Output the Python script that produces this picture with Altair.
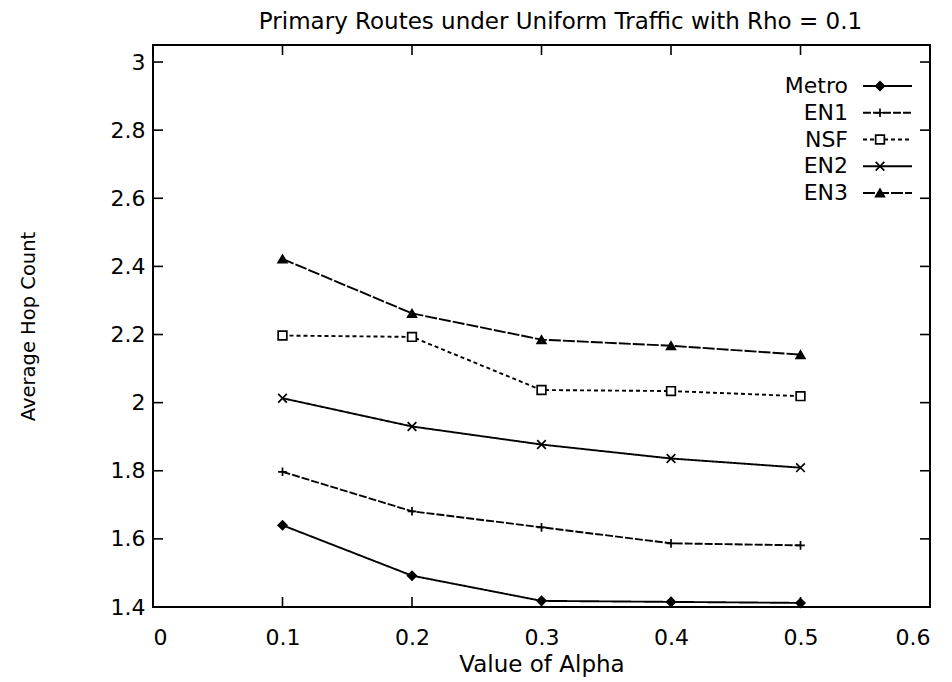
import altair as alt
import pandas as pd

# ---- data ----
alpha = [0.1, 0.2, 0.3, 0.4, 0.5]
series = ["Metro", "EN1", "NSF", "EN2", "EN3"]
metro = [1.640, 1.492, 1.418, 1.415, 1.412]
en1 = [1.797, 1.681, 1.634, 1.587, 1.581]
nsf = [2.197, 2.193, 2.037, 2.034, 2.019]
en2 = [2.013, 1.930, 1.877, 1.836, 1.809]
en3 = [2.422, 2.262, 2.185, 2.167, 2.141]
x_ticks = [0, 0.1, 0.2, 0.3, 0.4, 0.5, 0.6]
y_ticks = [1.4, 1.6, 1.8, 2.0, 2.2, 2.4, 2.6, 2.8, 3.0]

values = {"Metro": metro, "EN1": en1, "NSF": nsf, "EN2": en2, "EN3": en3}
rows = []
for s in series:
    for a, v in zip(alpha, values[s]):
        rows.append({"series": s, "alpha": a, "hops": v})
df = pd.DataFrame(rows)
leg = pd.DataFrame({"series": series})
xt = pd.DataFrame({"v": x_ticks})
yt = pd.DataFrame({"v": y_ticks})

W, H = 777, 562
FONT = "DejaVu Sans"
TL = 10

xscale = alt.Scale(domain=[0, 0.6], nice=False, zero=False)
yscale = alt.Scale(domain=[1.4, 3.05], nice=False, zero=False)

dash_scale = alt.Scale(domain=series, range=[[1, 0], [8, 2], [4, 3], [1, 0], [12, 2]])
plus = "M-1,0H1M0,-1V1"
xmark = "M-1,-1L1,1M-1,1L1,-1"
shape_scale = alt.Scale(domain=series, range=["diamond", plus, "square", xmark, "triangle-up"])
fill_scale = alt.Scale(domain=series, range=["black", "transparent", "white", "transparent", "black"])

lines = alt.Chart(df).mark_line(color="black", strokeWidth=1.9).encode(
    x=alt.X("alpha:Q", scale=xscale,
            axis=alt.Axis(values=x_ticks, format="~g", ticks=False, grid=False,
                          domain=False, labelPadding=20, labelFontSize=22, labelFont=FONT,
                          labelColor="black", title="Value of Alpha", titleFont=FONT,
                          titleFontSize=23, titleFontWeight="normal", titleColor="black",
                          titleX=W / 2, titleY=57, titleBaseline="middle")),
    y=alt.Y("hops:Q", scale=yscale,
            axis=alt.Axis(values=y_ticks, format="~g", ticks=False, grid=False,
                          domain=False, labelPadding=8, labelFontSize=22, labelFont=FONT,
                          labelColor="black", title="Average Hop Count", titleFont=FONT,
                          titleFontSize=19.5, titleFontWeight="normal", titleColor="black",
                          titleX=-125, titleY=H / 2, titleBaseline="middle")),
    strokeDash=alt.StrokeDash("series:N", scale=dash_scale, legend=None),
    detail="series:N",
)

points = alt.Chart(df).mark_point(stroke="black", strokeWidth=1.7, opacity=1, fillOpacity=1, size=75).encode(
    x=alt.X("alpha:Q", scale=xscale),
    y=alt.Y("hops:Q", scale=yscale, axis=None),
    shape=alt.Shape("series:N", scale=shape_scale, legend=None),
    fill=alt.Fill("series:N", scale=fill_scale, legend=None),
)

# inward ticks on all four sides
xt_bot = alt.Chart(xt).mark_rule(color="black", strokeWidth=1.6).encode(
    x=alt.X("v:Q", scale=xscale), y=alt.value(H), y2=alt.value(H - TL))
xt_top = alt.Chart(xt).mark_rule(color="black", strokeWidth=1.6).encode(
    x=alt.X("v:Q", scale=xscale), y=alt.value(0), y2=alt.value(TL))
yt_left = alt.Chart(yt).mark_rule(color="black", strokeWidth=1.6).encode(
    y=alt.Y("v:Q", scale=yscale, axis=None), x=alt.value(0), x2=alt.value(TL))
yt_right = alt.Chart(yt).mark_rule(color="black", strokeWidth=1.6).encode(
    y=alt.Y("v:Q", scale=yscale, axis=None), x=alt.value(W), x2=alt.value(W - TL))

# legend (top right, labels left of samples)
lscale = alt.Scale(type="point", domain=series, range=[41, 148], padding=0)
leg_text = alt.Chart(leg).mark_text(align="right", baseline="middle", font=FONT,
                                     fontSize=22, color="black").encode(
    y=alt.Y("series:N", scale=lscale, axis=None), x=alt.value(695), text="series:N")
leg_line = alt.Chart(leg).mark_rule(color="black", strokeWidth=1.9).encode(
    y=alt.Y("series:N", scale=lscale, axis=None), x=alt.value(710), x2=alt.value(759),
    strokeDash=alt.StrokeDash("series:N", scale=dash_scale, legend=None))
leg_pt = alt.Chart(leg).mark_point(stroke="black", strokeWidth=1.7, opacity=1, fillOpacity=1, size=75).encode(
    y=alt.Y("series:N", scale=lscale, axis=None), x=alt.value(727),
    shape=alt.Shape("series:N", scale=shape_scale, legend=None),
    fill=alt.Fill("series:N", scale=fill_scale, legend=None))

chart = alt.layer(
    lines, points, xt_bot, xt_top, yt_left, yt_right, leg_text, leg_line, leg_pt
).resolve_scale(y="independent").properties(
    width=W, height=H,
    background="white",
    title=alt.TitleParams("Primary Routes under Uniform Traffic with Rho = 0.1",
                          font=FONT, fontSize=23, fontWeight="normal", color="black",
                          anchor="middle", dx=19, offset=10),
    autosize=alt.AutoSizeParams(type="none"),
    padding={"left": 145, "top": 37, "right": 10, "bottom": 75},
).configure_view(stroke="black", strokeWidth=2)

chart.save("out.html", embed_options={"renderer": "svg", "actions": False})
